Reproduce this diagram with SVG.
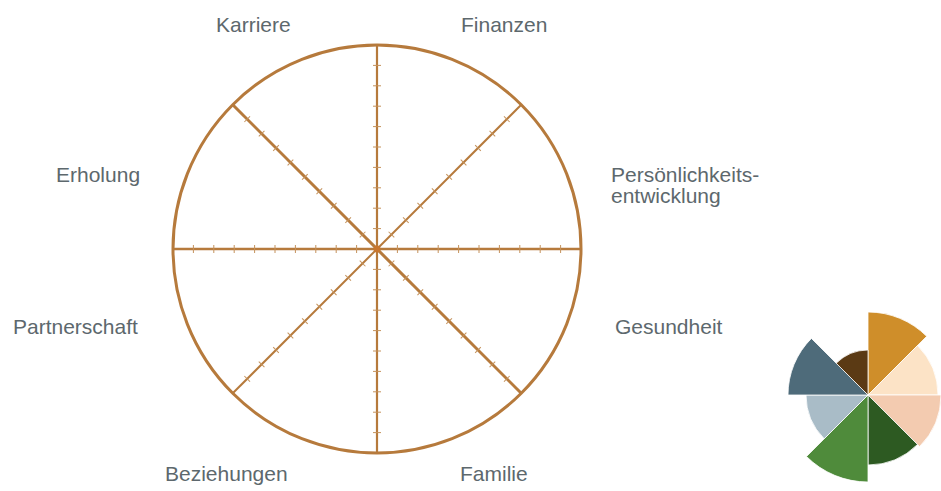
<svg xmlns="http://www.w3.org/2000/svg" xmlns:xlink="http://www.w3.org/1999/xlink" width="941" height="491" viewBox="0 0 941 491">
<style>
.lbl{font-family:"Liberation Sans",Arial,sans-serif;font-size:21px;fill:#5d686d}
.axis{stroke:#b67a3c;fill:none}
.tick{stroke:#c4925c;stroke-width:1}
.seg{stroke:#ffffff;stroke-width:0.8}
</style>
<defs>
<g id="spoke">
<line x1="0" y1="-204" x2="0" y2="204"/>
<g class="tick">
<line x1="-4" y1="-20.4" x2="4" y2="-20.4"/><line x1="-4" y1="-40.8" x2="4" y2="-40.8"/><line x1="-4" y1="-61.2" x2="4" y2="-61.2"/><line x1="-4" y1="-81.6" x2="4" y2="-81.6"/><line x1="-4" y1="-102" x2="4" y2="-102"/><line x1="-4" y1="-122.4" x2="4" y2="-122.4"/><line x1="-4" y1="-142.8" x2="4" y2="-142.8"/><line x1="-4" y1="-163.2" x2="4" y2="-163.2"/><line x1="-4" y1="-183.6" x2="4" y2="-183.6"/>
<line x1="-4" y1="20.4" x2="4" y2="20.4"/><line x1="-4" y1="40.8" x2="4" y2="40.8"/><line x1="-4" y1="61.2" x2="4" y2="61.2"/><line x1="-4" y1="81.6" x2="4" y2="81.6"/><line x1="-4" y1="102" x2="4" y2="102"/><line x1="-4" y1="122.4" x2="4" y2="122.4"/><line x1="-4" y1="142.8" x2="4" y2="142.8"/><line x1="-4" y1="163.2" x2="4" y2="163.2"/><line x1="-4" y1="183.6" x2="4" y2="183.6"/>
</g>
</g>
</defs>
<rect width="941" height="491" fill="#ffffff"/>
<g id="connectors" transform="translate(377,249)">
<use xlink:href="#spoke" class="axis" stroke-width="2.2"/>
<use xlink:href="#spoke" class="axis" stroke-width="2.6" stroke="#bd7936" transform="rotate(90)"/>
<use xlink:href="#spoke" class="axis" stroke-width="2" transform="rotate(45)"/>
<use xlink:href="#spoke" class="axis" stroke-width="3" transform="rotate(-45)"/>
</g>
<g id="wheel">
<circle cx="377" cy="249" r="204" fill="none" stroke="#b67a3c" stroke-width="3"/>
<circle cx="377" cy="249" r="3.5" fill="#c8762f"/>
</g>
<g id="karriere"><text class="lbl" x="216" y="32">Karriere</text></g>
<g id="finanzen"><text class="lbl" x="461" y="32">Finanzen</text></g>
<g id="erholung"><text class="lbl" x="56" y="182">Erholung</text></g>
<g id="persoenlichkeit"><text class="lbl" x="611" y="182">Persönlichkeits-<tspan x="611" y="203">entwicklung</tspan></text></g>
<g id="partnerschaft"><text class="lbl" x="13" y="334">Partnerschaft</text></g>
<g id="gesundheit"><text class="lbl" x="615" y="334">Gesundheit</text></g>
<g id="beziehungen"><text class="lbl" x="165" y="481">Beziehungen</text></g>
<g id="familie"><text class="lbl" x="460" y="481">Familie</text></g>
<g id="icon" transform="translate(868,395)">
<path class="seg" fill="#cf8e2a" d="M0 0 L0 -83 A83 83 0 0 1 58.7 -58.7 Z"/>
<path class="seg" fill="#fce3c6" d="M0 0 L49.5 -49.5 A70 70 0 0 1 70 0 Z"/>
<path class="seg" fill="#f3cbb0" d="M0 0 L73 0 A73 73 0 0 1 51.6 51.6 Z"/>
<path class="seg" fill="#2d5a22" d="M0 0 L49.5 49.5 A70 70 0 0 1 0 70 Z"/>
<path class="seg" fill="#4f8b3b" d="M0 0 L0 87 A87 87 0 0 1 -61.5 61.5 Z"/>
<path class="seg" fill="#a9bcc7" d="M0 0 L-43.8 43.8 A62 62 0 0 1 -62 0 Z"/>
<path class="seg" fill="#4e6b7a" d="M0 0 L-80 0 A80 80 0 0 1 -56.6 -56.6 Z"/>
<path class="seg" fill="#5b3a14" d="M0 0 L-31.8 -31.8 A45 45 0 0 1 0 -45 Z"/>
</g>
</svg>
